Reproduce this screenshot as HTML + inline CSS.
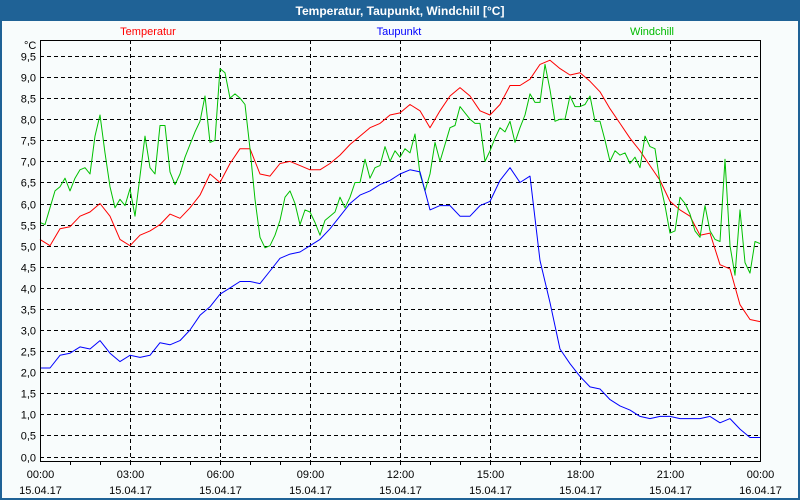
<!DOCTYPE html>
<html><head><meta charset="utf-8">
<style>
html,body{margin:0;padding:0;}
body{width:800px;height:500px;overflow:hidden;background:#1f6296;font-family:"Liberation Sans",sans-serif;}
svg{display:block;}
</style></head>
<body>
<svg width="800" height="500" xmlns="http://www.w3.org/2000/svg">
  <rect x="0" y="0" width="800" height="500" fill="#1f6296"/>
  <text x="400" y="15" text-anchor="middle" font-size="12" font-weight="bold" fill="#ffffff">Temperatur, Taupunkt, Windchill [°C]</text>
  <rect x="2" y="21" width="796" height="477" fill="#f8fcfc"/>
  <text x="148" y="35" text-anchor="middle" font-size="11" fill="#ff0000">Temperatur</text>
  <text x="399" y="35" text-anchor="middle" font-size="11" fill="#0000ff">Taupunkt</text>
  <text x="652" y="35" text-anchor="middle" font-size="11" fill="#00bb00">Windchill</text>
  <text x="24" y="49" font-size="11" fill="#000">°C</text>
  <g id="grid"></g>
  <g id="series"></g>
  <g id="axes"></g>
</svg>
<script>
const yTicks = [0,0.5,1,1.5,2,2.5,3,3.5,4,4.5,5,5.5,6,6.5,7,7.5,8,8.5,9,9.5];
const xTickHours = [0,3,6,9,12,15,18,21,24];
const xTickTimes = ["00:00","03:00","06:00","09:00","12:00","15:00","18:00","21:00","00:00"];
const xTickDates = ["15.04.17","15.04.17","15.04.17","15.04.17","15.04.17","15.04.17","15.04.17","15.04.17","16.04.17"];
const tempStepHours = 1/3;
const temperatur = [5.15,5.0,5.4,5.45,5.7,5.8,6.0,5.7,5.15,5.0,5.25,5.35,5.5,5.75,5.65,5.9,6.2,6.7,6.5,6.95,7.3,7.3,6.7,6.65,6.95,
7.0,6.9,6.8,6.8,6.95,7.15,7.4,7.6,7.8,7.9,8.1,8.15,8.35,8.2,7.8,8.2,8.55,8.75,8.55,8.2,8.1,8.35,8.8,8.8,
8.95,9.3,9.4,9.2,9.05,9.1,8.9,8.65,8.25,7.9,7.55,7.25,6.9,6.55,6.05,5.85,5.7,5.25,5.3,4.55,4.45,3.6,3.25,3.2];
const dewStepHours = 1/3;
const taupunkt = [2.1,2.1,2.4,2.45,2.6,2.55,2.75,2.45,2.25,2.4,2.35,2.4,2.7,2.65,2.75,3.0,3.35,3.55,3.85,4.0,4.15,4.15,4.1,4.4,4.7,
4.8,4.85,5.0,5.15,5.4,5.7,6.0,6.2,6.3,6.45,6.55,6.7,6.8,6.75,5.85,5.95,5.95,5.7,5.7,5.95,6.05,6.55,6.85,6.5,
6.65,4.65,3.65,2.55,2.2,1.9,1.65,1.6,1.35,1.2,1.1,0.95,0.9,0.95,0.95,0.9,0.9,0.9,0.95,0.8,0.9,0.65,0.45,0.45];
const windStepHours = 1/6;
const windchill = [5.55,5.5,5.9,6.3,6.4,6.6,6.3,6.6,6.8,6.85,6.7,7.6,8.1,7.2,6.4,5.9,6.1,5.95,6.35,5.7,6.65,7.6,6.85,6.7,7.85,7.85,6.75,6.45,6.7,7.1,7.4,7.7,7.95,8.55,7.45,7.5,9.2,9.1,8.5,8.6,8.5,8.35,7.3,6.1,5.2,4.95,5.0,5.25,5.6,
6.15,6.3,6.0,5.5,5.85,5.8,5.55,5.25,5.6,5.7,5.8,6.15,5.9,6.15,6.5,6.5,7.05,6.6,6.85,6.9,7.35,7.0,7.25,7.1,7.3,7.2,7.65,6.7,6.3,6.7,7.45,7.0,7.4,7.8,7.85,8.3,8.15,8.0,7.9,7.9,7.0,7.25,7.55,7.8,7.7,7.95,7.45,7.8,
8.1,8.6,8.4,8.4,9.3,8.7,7.95,8.0,8.0,8.55,8.3,8.3,8.35,8.55,7.95,7.95,7.5,7.0,7.25,7.15,7.2,6.95,7.1,6.85,7.6,7.35,7.3,6.5,5.95,5.3,5.35,6.15,6.0,5.75,5.35,5.2,5.95,5.35,5.15,5.1,7.05,5.0,4.3,5.85,4.6,4.35,5.1,5.05];

const NS = "http://www.w3.org/2000/svg";
const L = 40, R = 760, T = 40, B = 461;
function xScale(h){ return L + h * (R - L) / 24; }
function yScale(v){ return 456.5 - v * 42.16; }
function mk(tag, attrs, parent){
  const e = document.createElementNS(NS, tag);
  for (const k in attrs) e.setAttribute(k, attrs[k]);
  parent.appendChild(e);
  return e;
}
const grid = document.getElementById('grid');
const axes = document.getElementById('axes');
const series = document.getElementById('series');

yTicks.forEach(v => {
  const y = Math.round(yScale(v)) + 0.5;
  const g = mk('line', {x1:L, x2:R, y1:y, y2:y, stroke:'#000', 'stroke-dasharray':'4,3', 'stroke-width':1}, grid);
  
  
  const t = mk('text', {x:36, y:y+4, 'text-anchor':'end', 'font-size':11, fill:'#000'}, axes);
  t.textContent = v.toFixed(1).replace('.', ',');
  
  
});
xTickHours.forEach((h, i) => {
  const x = Math.round(xScale(h)) + 0.5;
  if (h > 0 && h < 24) {
    const g = mk('line', {x1:x, x2:x, y1:T, y2:B, stroke:'#000', 'stroke-dasharray':'4,3', 'stroke-width':1}, grid);
    
    
  }
  const t1 = mk('text', {x:x, y:478, 'text-anchor':'middle', 'font-size':11, fill:'#000'}, axes);
  t1.textContent = xTickTimes[i];
  
  
  const t2 = mk('text', {x:x, y:494, 'text-anchor':'middle', 'font-size':11, fill:'#000'}, axes);
  t2.textContent = xTickDates[i];
  
  
});
for (let h = 1; h < 24; h++) {
  const x = Math.round(xScale(h)) + 0.5;
  const tk = mk('line', {x1:x, x2:x, y1:B, y2:B+4, stroke:'#000'}, axes);
  
  
}
const frame = mk('rect', {x:L+0.5, y:T+0.5, width:R-L, height:B-T, fill:'none', stroke:'#000', 'stroke-width':1}, axes);



function drawLine(vals, step, color, name){
  const pts = vals.map((v, i) => xScale(i * step).toFixed(1) + ',' + yScale(v).toFixed(1)).join(' ');
  const p = mk('polyline', {points:pts, fill:'none', stroke:color, 'stroke-width':1, 'stroke-linejoin':'round'}, series);
  
  
}
drawLine(temperatur, tempStepHours, '#ff0000', 'temperatur-line');
drawLine(windchill, windStepHours, '#00c000', 'windchill-line');
drawLine(taupunkt, dewStepHours, '#0000ff', 'taupunkt-line');
</script>
</body></html>
